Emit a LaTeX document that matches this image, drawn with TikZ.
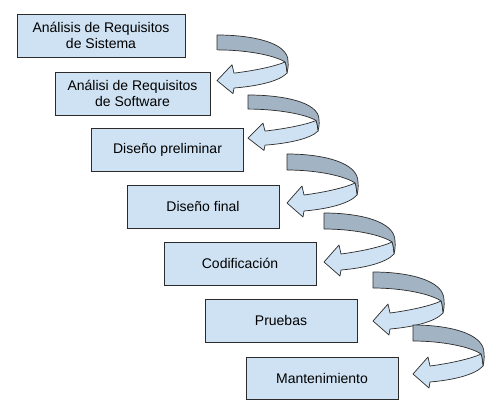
\documentclass[tikz,border=0pt]{standalone}
\usepackage{fontspec}
\setmainfont{Liberation Sans}
\definecolor{boxc}{HTML}{CFE2F3}
\definecolor{backc}{HTML}{A2B3C3}
\definecolor{edgec}{HTML}{2B2B2B}
\tikzset{
  stage/.style={draw=edgec, line width=0.9pt, fill=boxc, align=center,
    minimum height=43pt, minimum width=152pt, inner sep=0pt,
    font=\fontsize{14}{16}\selectfont, text=black},
  ribbon/.pic={
    \filldraw[fill=backc, draw=edgec, line width=0.7pt, line join=round]
      (0,0) .. controls (35,0) and (71,8) .. (71,28)
      .. controls (71.5,33) and (71,37) .. (70,41)
      .. controls (69.5,36) and (69,32) .. (68,29)
      .. controls (58,22) and (30,16) .. (0,16) -- cycle;
    \filldraw[fill=boxc, draw=edgec, line width=0.7pt, line join=round]
      (70,41) .. controls (62,50) and (40,55) .. (17,57)
      -- (16,63) -- (0,49) -- (15,32) -- (17,41)
      .. controls (40,38) and (60,33) .. (68,29)
      .. controls (69,32) and (69.5,36) .. (70,41) -- cycle;
  }
}
\begin{document}
\begin{tikzpicture}[x=1pt, y=-1pt]
\useasboundingbox (0,0) rectangle (503,407);
\fill[white] (0,0) rectangle (503,407);
\node[stage, minimum width=168pt] (b1) at (101,35.5) {Análisis de Requisitos\\de Sistema};
\node[stage, minimum width=155pt] (b2) at (132.5,93.5) {Análisi de Requisitos\\de Software};
\node[stage] (b3) at (167.5,149.5) {Diseño preliminar};
\node[stage] (b4) at (203,206.5) {Diseño final};
\node[stage] (b5) at (240,263.5) {Codificación};
\node[stage] (b6) at (281,320.5) {Pruebas};
\node[stage, minimum height=42pt] (b7) at (322,378) {Mantenimiento};
\pic[yscale=0.93] at (217,35) {ribbon};
\pic[yscale=0.88] at (248,95) {ribbon};
\pic at (287,154) {ribbon};
\pic at (324,213) {ribbon};
\pic at (373,272) {ribbon};
\pic at (413,325) {ribbon};
\end{tikzpicture}
\end{document}
